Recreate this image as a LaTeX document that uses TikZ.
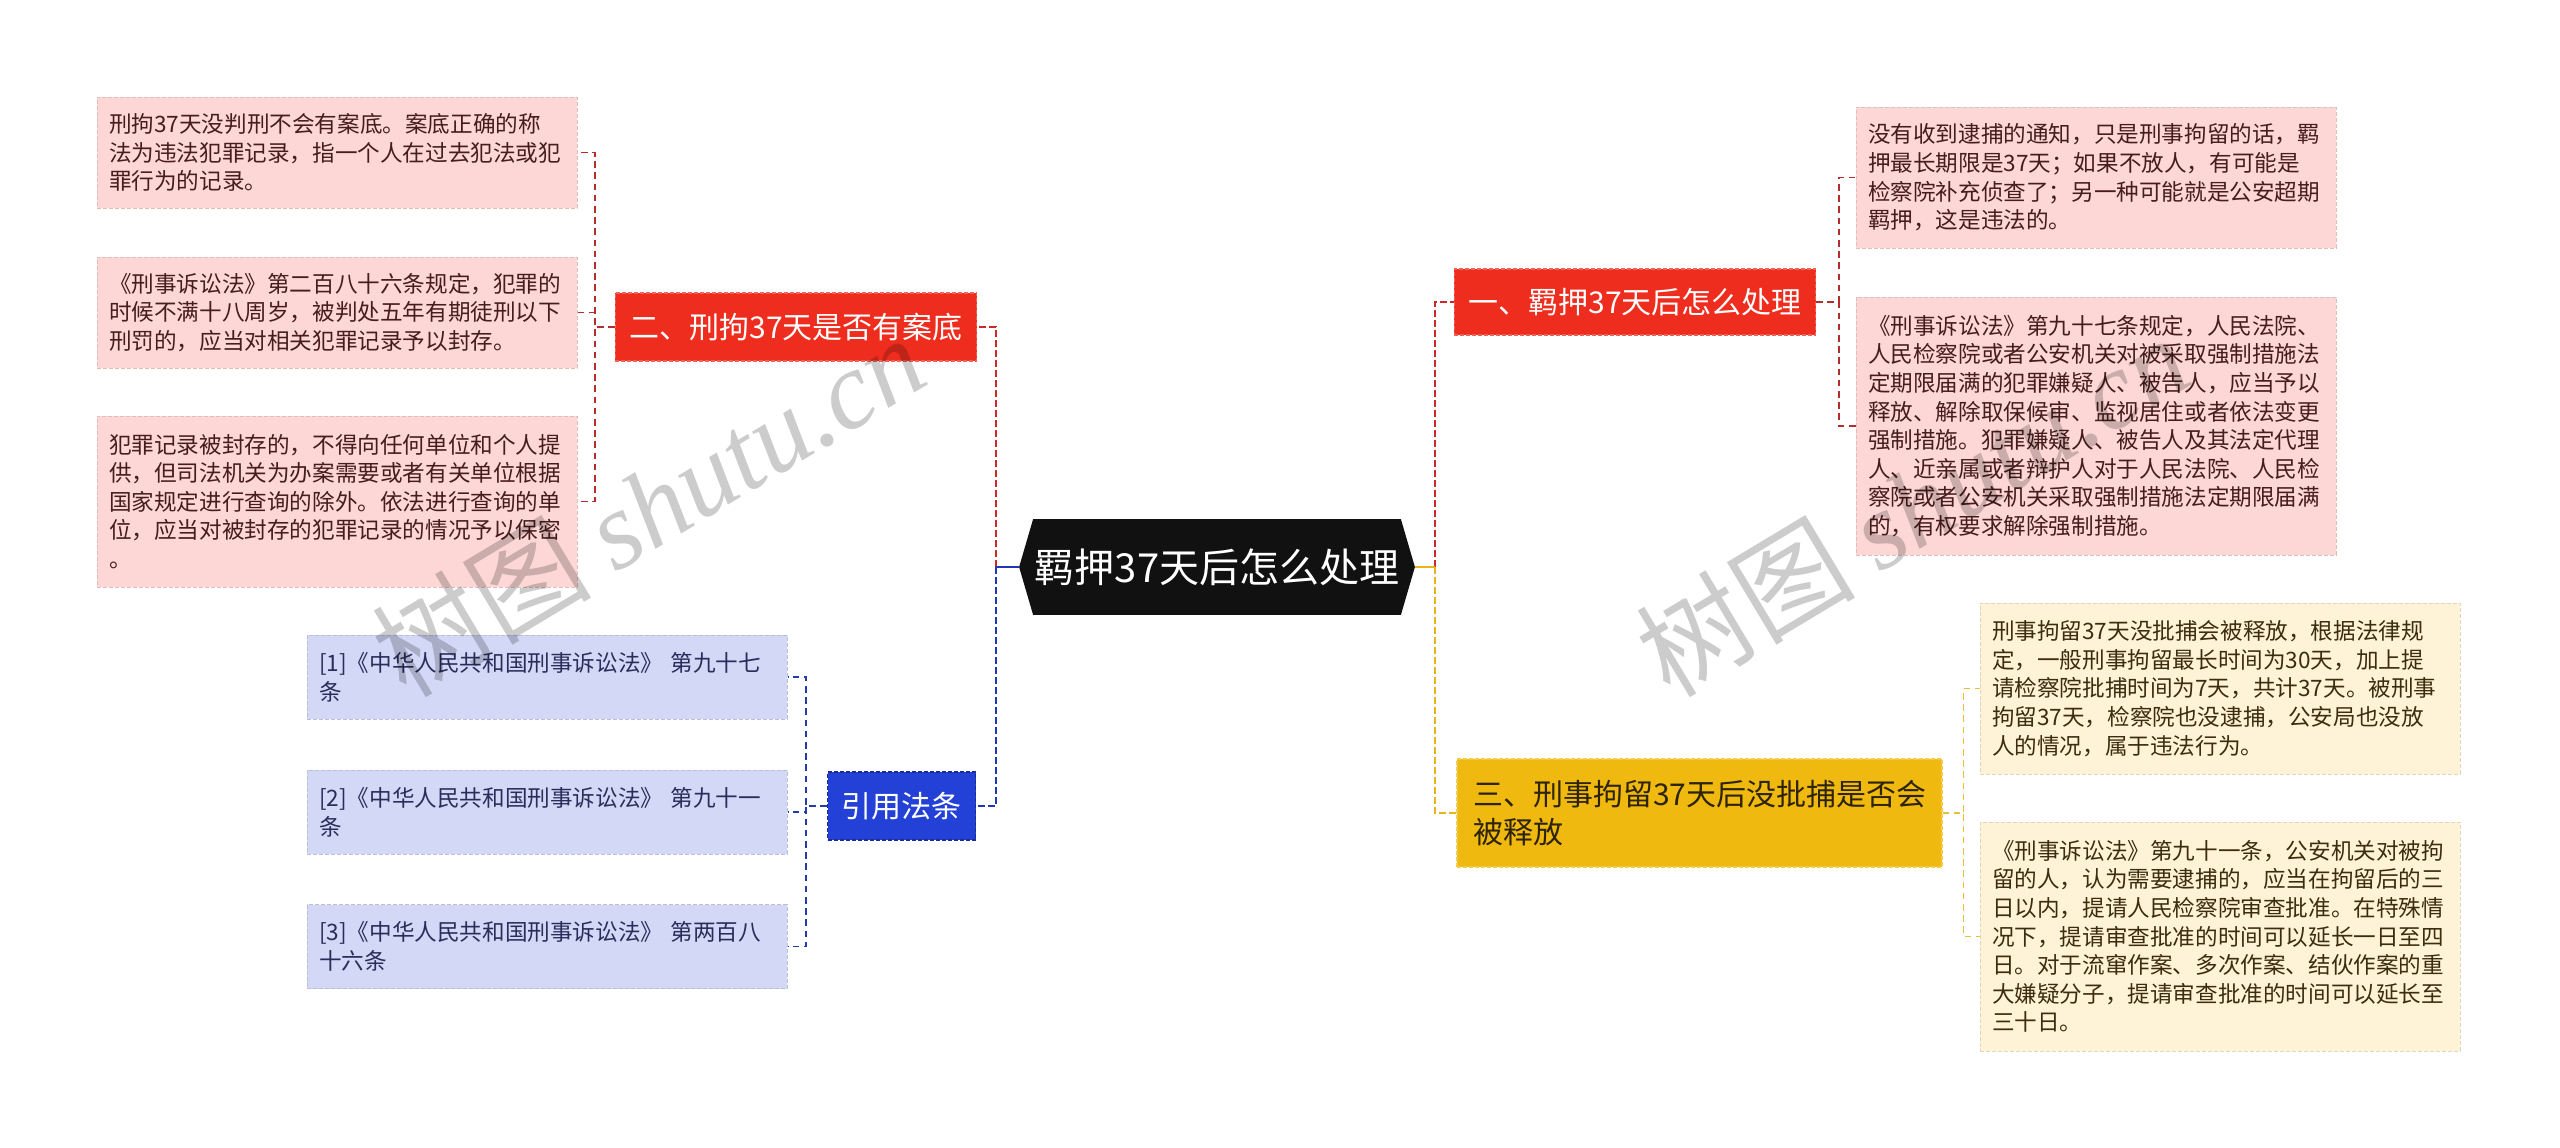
\documentclass[tikz,border=0pt]{standalone}
\usepackage{fontspec}
\setmainfont{Noto Sans CJK SC}
\newfontfamily\wmfont{Liberation Serif}
\usepackage{tikz}
\usetikzlibrary{backgrounds}
\definecolor{rootblack}{RGB}{17, 17, 17}
\definecolor{brred}{RGB}{238, 45, 30}
\definecolor{brgold}{RGB}{240, 185, 15}
\definecolor{brblue}{RGB}{35, 65, 215}
\definecolor{leafpink}{RGB}{253, 215, 213}
\definecolor{leafcream}{RGB}{254, 243, 214}
\definecolor{leaflav}{RGB}{211, 216, 247}
\definecolor{txtpink}{RGB}{70, 28, 28}
\definecolor{txtcream}{RGB}{60, 45, 15}
\definecolor{txtlav}{RGB}{40, 45, 90}
\definecolor{txtgold}{RGB}{45, 35, 5}
\definecolor{linered}{RGB}{205, 40, 40}
\definecolor{linegold}{RGB}{232, 180, 30}
\definecolor{lineblue}{RGB}{30, 55, 185}
\definecolor{twigred}{RGB}{180, 45, 45}
\definecolor{twiggold}{RGB}{235, 190, 60}
\definecolor{twigblue}{RGB}{35, 60, 170}

\begin{document}
\begin{tikzpicture}[x=0.5pt, y=-0.5pt,
      hub/.style={text=white, font=\fontsize{20}{24}\selectfont,
                  minimum width=183.5pt, minimum height=47.5pt, inner sep=0pt},
      brbox/.style={fill=#1, draw=#1!75!white, dash pattern=on 2pt off 1pt,
                    line width=0.6pt, inner xsep=7pt, inner ysep=0pt,
                    font=\fontsize{15}{18.8}\selectfont},
      leaf/.style={fill=#1, draw=#1!88!black, dash pattern=on 2pt off 1pt,
                   line width=0.5pt, text width=228pt, align=left,
                   inner xsep=6pt, inner ysep=0pt,
                   font=\fontsize{11.3}{14.3}\selectfont},
      trunk/.style={draw=#1, line width=1.35pt, dash pattern=on 3.3pt off 1.7pt},
      twig/.style={draw=#1, line width=0.85pt, dash pattern=on 3.3pt off 2.3pt},
      wm/.style={text=black, text opacity=0.2, font=\fontsize{55}{60}\selectfont},
    ]
    \useasboundingbox (0,0) rectangle (2560,1147);
    %% root
    \node[hub] (root) at (1217,567) {羁押37天后怎么处理};
    \coordinate (rootL) at ([xshift=-7pt]root.west);
    \coordinate (rootR) at ([xshift=7pt]root.east);
    \coordinate (jl) at (996,567);
    \coordinate (jr) at (1435,567);
    \begin{scope}[on background layer]
      \fill[white] (0,0) rectangle (2560,1147);
      \fill[rootblack] (rootL) -- (root.north west) -- (root.north east)
        -- (rootR) -- (root.south east) -- (root.south west) -- cycle;
    \end{scope}
    %% branches
    \node[brbox=brred, text=white, minimum width=178pt, minimum height=33pt]
      (b1) at (1635,302) {一、羁押37天后怎么处理};
    \node[brbox=brred, text=white, minimum width=179pt, minimum height=34pt]
      (b2) at (796,327) {二、刑拘37天是否有案底};
    \node[brbox=brgold, text=txtgold, text width=226.5pt, align=left,
          inner xsep=8pt, minimum height=54pt]
      (b3) at (1699.5,813) {三、刑事拘留37天后没批捕是否会\\被释放};
    \node[brbox=brblue, draw=brblue!70!black, text=white,
          minimum width=73.5pt, minimum height=34pt]
      (b4) at (901.5,806) {引用法条};
    %% leaves of b1
    \node[leaf=leafpink, text=txtpink, minimum height=70.5pt] (r11) at (2096,177.5)
      {没有收到逮捕的通知，只是刑事拘留的话，羁\\押最长期限是37天；如果不放人，有可能是\\检察院补充侦查了；另一种可能就是公安超期\\羁押，这是违法的。};
    \node[leaf=leafpink, text=txtpink, minimum height=129pt] (r12) at (2096,426)
      {《刑事诉讼法》第九十七条规定，人民法院、\\人民检察院或者公安机关对被采取强制措施法\\定期限届满的犯罪嫌疑人、被告人，应当予以\\释放、解除取保候审、监视居住或者依法变更\\强制措施。犯罪嫌疑人、被告人及其法定代理\\人、近亲属或者辩护人对于人民法院、人民检\\察院或者公安机关采取强制措施法定期限届满\\的，有权要求解除强制措施。};
    %% leaves of b3
    \node[leaf=leafcream, text=txtcream, minimum height=85.5pt] (r31) at (2220,688.5)
      {刑事拘留37天没批捕会被释放，根据法律规\\定，一般刑事拘留最长时间为30天，加上提\\请检察院批捕时间为7天，共计37天。被刑事\\拘留37天，检察院也没逮捕，公安局也没放\\人的情况，属于违法行为。};
    \node[leaf=leafcream, text=txtcream, minimum height=114.5pt] (r32) at (2220,936.5)
      {《刑事诉讼法》第九十一条，公安机关对被拘\\留的人，认为需要逮捕的，应当在拘留后的三\\日以内，提请人民检察院审查批准。在特殊情\\况下，提请审查批准的时间可以延长一日至四\\日。对于流窜作案、多次作案、结伙作案的重\\大嫌疑分子，提请审查批准的时间可以延长至\\三十日。};
    %% leaves of b2
    \node[leaf=leafpink, text=txtpink, minimum height=55.5pt] (l21) at (337,152.5)
      {刑拘37天没判刑不会有案底。案底正确的称\\法为违法犯罪记录，指一个人在过去犯法或犯\\罪行为的记录。};
    \node[leaf=leafpink, text=txtpink, minimum height=55.5pt] (l22) at (337,312.5)
      {《刑事诉讼法》第二百八十六条规定，犯罪的\\时候不满十八周岁，被判处五年有期徒刑以下\\刑罚的，应当对相关犯罪记录予以封存。};
    \node[leaf=leafpink, text=txtpink, minimum height=85.5pt] (l23) at (337,501.5)
      {犯罪记录被封存的，不得向任何单位和个人提\\供，但司法机关为办案需要或者有关单位根据\\国家规定进行查询的除外。依法进行查询的单\\位，应当对被封存的犯罪记录的情况予以保密\\。};
    %% leaves of b4
    \node[leaf=leaflav, text=txtlav, minimum height=42pt] (l41) at (547,677)
      {[1]《中华人民共和国刑事诉讼法》 第九十七\\条};
    \node[leaf=leaflav, text=txtlav, minimum height=42pt] (l42) at (547,812)
      {[2]《中华人民共和国刑事诉讼法》 第九十一\\条};
    \node[leaf=leaflav, text=txtlav, minimum height=42pt] (l43) at (547,946.5)
      {[3]《中华人民共和国刑事诉讼法》 第两百八\\十六条};
    %% root to branches
    \draw[trunk=linered] (jl) |- (b2.east);
    \draw[trunk=lineblue] (jl) |- (b4.east);
    \draw[trunk=linered] (jr) |- (b1.west);
    \draw[trunk=linegold] (jr) |- (b3.west);
    \draw[lineblue, line width=1.35pt] (rootL) -- (jl);
    \draw[linegold, line width=1.35pt] (rootR) -- (jr);
    %% branches to leaves
    \foreach \n in {r11,r12}
      \draw[twig=twigred] (b1.east) -- ++(23,0) |- (\n.west);
    \foreach \n in {r31,r32}
      \draw[twig=twiggold] (b3.east) -- ++(21,0) |- (\n.west);
    \foreach \n in {l21,l22,l23}
      \draw[twig=twigred] (b2.west) -- ++(-20,0) |- (\n.east);
    \foreach \n in {l41,l42,l43}
      \draw[twig=twigblue] (b4.west) -- ++(-21,0) |- (\n.east);
    %% watermark
    \node[wm, rotate=31] (wm1) at (648,505) {树图 {\wmfont\itshape shutu.cn}};
    \node[wm, rotate=31] (wm2) at (1912,505) {树图 {\wmfont\itshape shutu.cn}};
\end{tikzpicture}
\end{document}
